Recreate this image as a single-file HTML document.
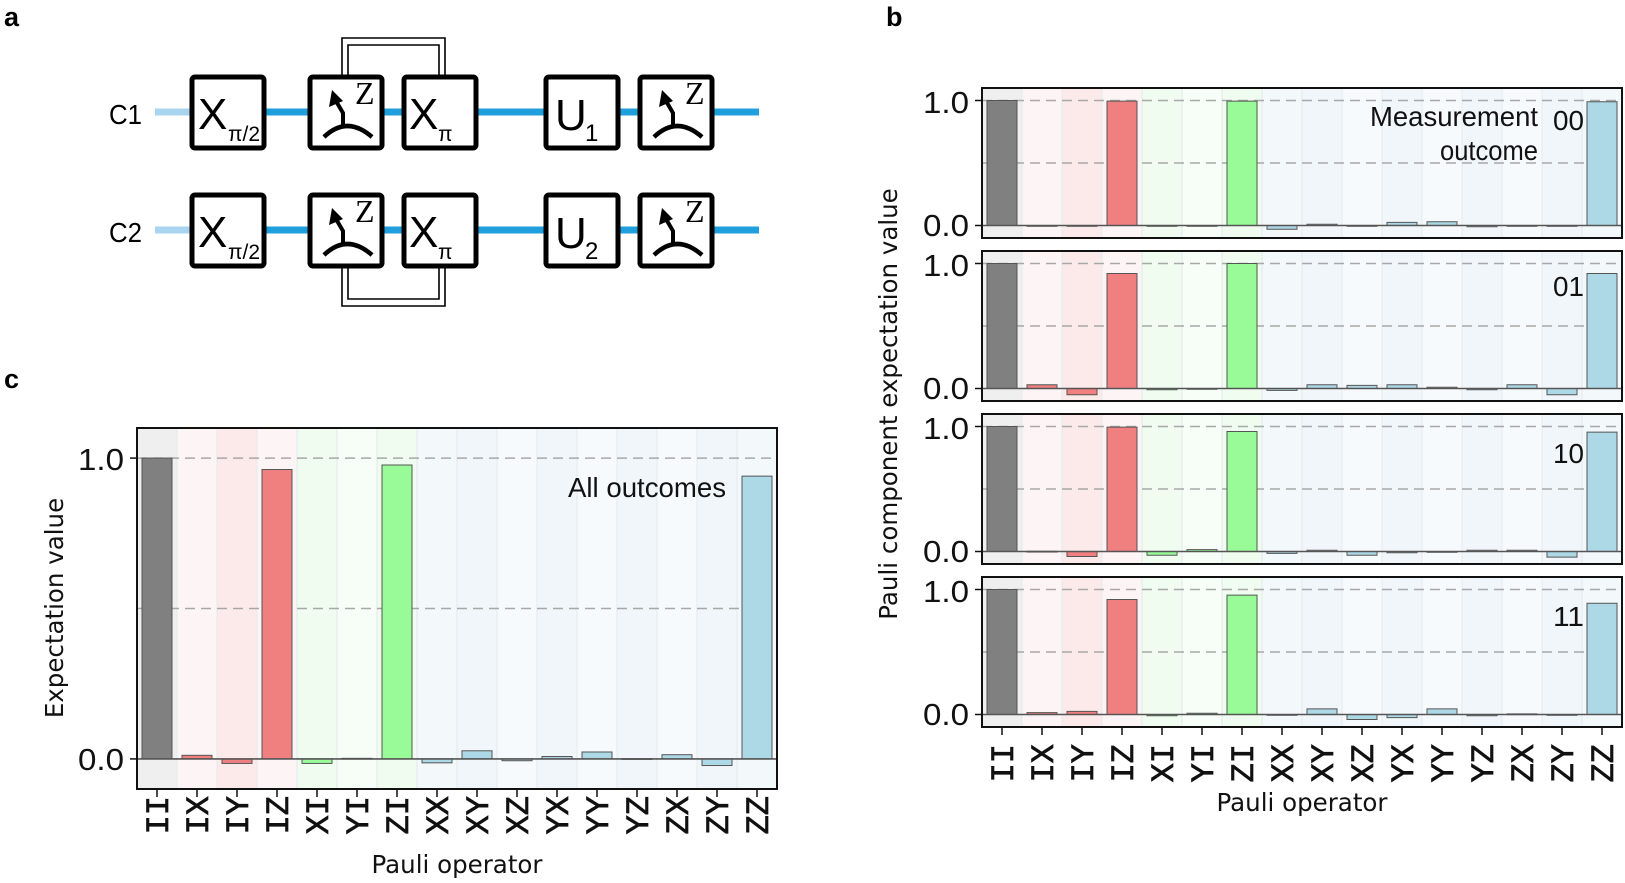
<!DOCTYPE html>
<html><head><meta charset="utf-8"><style>
html,body{margin:0;padding:0;background:#fff}
svg{display:block}
.tk{font-family:"Liberation Sans",sans-serif;font-size:31px;fill:#111}
.ml{font-family:"Liberation Mono",monospace;font-size:32px;fill:#111;stroke:#111;stroke-width:0.7}
.ax{font-family:"DejaVu Sans",sans-serif;font-size:24.5px;fill:#111}
.an{font-family:"Liberation Sans",sans-serif;font-size:28px;fill:#111}
.gt{font-family:"Liberation Sans",sans-serif;font-size:38px;fill:#000}
.sub{font-family:"Liberation Sans",sans-serif;font-size:20px;fill:#000}
.pl{font-family:"Liberation Sans",sans-serif;font-size:27px;font-weight:bold;fill:#000}
</style></head><body>
<svg id="s" width="1625" height="883" viewBox="0 0 1625 883" xmlns="http://www.w3.org/2000/svg">
<text class="pl" x="4" y="26">a</text>
<text class="pl" x="886" y="26">b</text>
<text class="pl" x="4" y="388">c</text>

<g id="circ">
<line x1="155" y1="112" x2="192" y2="112" stroke="#a9d4ef" stroke-width="7"/>
<line x1="192" y1="112" x2="759" y2="112" stroke="#1fa0dc" stroke-width="7"/>
<line x1="155" y1="230" x2="192" y2="230" stroke="#a9d4ef" stroke-width="7"/>
<line x1="192" y1="230" x2="759" y2="230" stroke="#1fa0dc" stroke-width="7"/>
<path d="M342 77 V38 H445 V77" fill="none" stroke="#000" stroke-width="1.6"/>
<path d="M348 77 V45 H439 V77" fill="none" stroke="#000" stroke-width="1.6"/>
<path d="M342 268 V306 H445 V268" fill="none" stroke="#000" stroke-width="1.6"/>
<path d="M348 268 V299 H439 V268" fill="none" stroke="#000" stroke-width="1.6"/>
<text class="gt" x="109" y="124" style="font-size:28px" textLength="33" lengthAdjust="spacingAndGlyphs">C1</text>
<text class="gt" x="109" y="242" style="font-size:28px" textLength="33" lengthAdjust="spacingAndGlyphs">C2</text>
</g>
<g id="pc"></g>
<g id="pb"></g>

<text class="tk" x="124" y="470" text-anchor="end" textLength="46" lengthAdjust="spacingAndGlyphs">1.0</text>
<text class="tk" x="124" y="770" text-anchor="end" textLength="46" lengthAdjust="spacingAndGlyphs">0.0</text>
<text class="ax" transform="translate(63,608) rotate(-90)" text-anchor="middle">Expectation value</text>
<text class="ax" x="457" y="873" text-anchor="middle">Pauli operator</text>
<text class="an" x="726" y="497" text-anchor="end" textLength="158" lengthAdjust="spacingAndGlyphs">All outcomes</text>

<text class="tk" x="969" y="113" text-anchor="end" textLength="46" lengthAdjust="spacingAndGlyphs">1.0</text>
<text class="tk" x="969" y="236" text-anchor="end" textLength="46" lengthAdjust="spacingAndGlyphs">0.0</text>
<text class="tk" x="969" y="276" text-anchor="end" textLength="46" lengthAdjust="spacingAndGlyphs">1.0</text>
<text class="tk" x="969" y="399" text-anchor="end" textLength="46" lengthAdjust="spacingAndGlyphs">0.0</text>
<text class="tk" x="969" y="439" text-anchor="end" textLength="46" lengthAdjust="spacingAndGlyphs">1.0</text>
<text class="tk" x="969" y="562" text-anchor="end" textLength="46" lengthAdjust="spacingAndGlyphs">0.0</text>
<text class="tk" x="969" y="602" text-anchor="end" textLength="46" lengthAdjust="spacingAndGlyphs">1.0</text>
<text class="tk" x="969" y="725" text-anchor="end" textLength="46" lengthAdjust="spacingAndGlyphs">0.0</text>
<text class="ax" transform="translate(897,404) rotate(-90)" text-anchor="middle">Pauli component expectation value</text>
<text class="ax" x="1302" y="811" text-anchor="middle">Pauli operator</text>
<text class="an" x="1538" y="126" text-anchor="end" textLength="168" lengthAdjust="spacingAndGlyphs">Measurement</text>
<text class="an" x="1538" y="160" text-anchor="end" textLength="98" lengthAdjust="spacingAndGlyphs">outcome</text>
<text class="an" x="1584" y="130" text-anchor="end" textLength="31" lengthAdjust="spacingAndGlyphs">00</text>
<text class="an" x="1584" y="296" text-anchor="end" textLength="31" lengthAdjust="spacingAndGlyphs">01</text>
<text class="an" x="1584" y="463" text-anchor="end" textLength="31" lengthAdjust="spacingAndGlyphs">10</text>
<text class="an" x="1584" y="626" text-anchor="end" textLength="31" lengthAdjust="spacingAndGlyphs">11</text>

<g id="tlc">
<text class="ml" transform="translate(168,796) rotate(-90)" text-anchor="end">II</text>
<text class="ml" transform="translate(208,796) rotate(-90)" text-anchor="end">IX</text>
<text class="ml" transform="translate(248,796) rotate(-90)" text-anchor="end">IY</text>
<text class="ml" transform="translate(288,796) rotate(-90)" text-anchor="end">IZ</text>
<text class="ml" transform="translate(328,796) rotate(-90)" text-anchor="end">XI</text>
<text class="ml" transform="translate(368,796) rotate(-90)" text-anchor="end">YI</text>
<text class="ml" transform="translate(408,796) rotate(-90)" text-anchor="end">ZI</text>
<text class="ml" transform="translate(448,796) rotate(-90)" text-anchor="end">XX</text>
<text class="ml" transform="translate(488,796) rotate(-90)" text-anchor="end">XY</text>
<text class="ml" transform="translate(528,796) rotate(-90)" text-anchor="end">XZ</text>
<text class="ml" transform="translate(568,796) rotate(-90)" text-anchor="end">YX</text>
<text class="ml" transform="translate(608,796) rotate(-90)" text-anchor="end">YY</text>
<text class="ml" transform="translate(648,796) rotate(-90)" text-anchor="end">YZ</text>
<text class="ml" transform="translate(688,796) rotate(-90)" text-anchor="end">ZX</text>
<text class="ml" transform="translate(728,796) rotate(-90)" text-anchor="end">ZY</text>
<text class="ml" transform="translate(768,796) rotate(-90)" text-anchor="end">ZZ</text>
</g>
<g id="tlb">
<text class="ml" transform="translate(1013,744) rotate(-90)" text-anchor="end">II</text>
<text class="ml" transform="translate(1053,744) rotate(-90)" text-anchor="end">IX</text>
<text class="ml" transform="translate(1093,744) rotate(-90)" text-anchor="end">IY</text>
<text class="ml" transform="translate(1133,744) rotate(-90)" text-anchor="end">IZ</text>
<text class="ml" transform="translate(1173,744) rotate(-90)" text-anchor="end">XI</text>
<text class="ml" transform="translate(1213,744) rotate(-90)" text-anchor="end">YI</text>
<text class="ml" transform="translate(1253,744) rotate(-90)" text-anchor="end">ZI</text>
<text class="ml" transform="translate(1293,744) rotate(-90)" text-anchor="end">XX</text>
<text class="ml" transform="translate(1333,744) rotate(-90)" text-anchor="end">XY</text>
<text class="ml" transform="translate(1373,744) rotate(-90)" text-anchor="end">XZ</text>
<text class="ml" transform="translate(1413,744) rotate(-90)" text-anchor="end">YX</text>
<text class="ml" transform="translate(1453,744) rotate(-90)" text-anchor="end">YY</text>
<text class="ml" transform="translate(1493,744) rotate(-90)" text-anchor="end">YZ</text>
<text class="ml" transform="translate(1533,744) rotate(-90)" text-anchor="end">ZX</text>
<text class="ml" transform="translate(1573,744) rotate(-90)" text-anchor="end">ZY</text>
<text class="ml" transform="translate(1613,744) rotate(-90)" text-anchor="end">ZZ</text>
</g>
</svg>
<script>
var NS="http://www.w3.org/2000/svg";
function el(p,t,a){var e=document.createElementNS(NS,t);for(var k in a)e.setAttribute(k,a[k]);p.appendChild(e);return e;}
var circ=document.getElementById("circ");
function box(x,y){el(circ,"rect",{x:x,y:y,width:72,height:71,rx:3,fill:"#fff",stroke:"#000","stroke-width":5});}
function txt(x,y,s,cls,sz){var t=el(circ,"text",{x:x,y:y,"class":cls});t.textContent=s;if(sz)t.style.fontSize=sz+"px";return t;}
function meas(x,y){box(x,y);
 el(circ,"path",{d:"M"+(x+14)+" "+(y+60)+" Q"+(x+37)+" "+(y+38)+" "+(x+62)+" "+(y+60),fill:"none",stroke:"#000","stroke-width":4.5});
 el(circ,"path",{d:"M"+(x+33)+" "+(y+49)+" L"+(x+33)+" "+(y+36)+" L"+(x+26)+" "+(y+24),fill:"none",stroke:"#000","stroke-width":4});
 el(circ,"path",{d:"M"+(x+22)+" "+(y+13)+" L"+(x+19)+" "+(y+30)+" L"+(x+33)+" "+(y+24)+"Z",fill:"#000"});
 var z=txt(x+45,y+27,"Z","gt",32);z.style.fontFamily='"Liberation Serif",serif';}
[[77,"1"],[195,"2"]].forEach(function(r){var y=r[0];
 box(192,y);txt(198,y+52,"X","gt",44);txt(228,y+64,"π/2","sub",21);
 meas(310,y);
 box(404,y);txt(409,y+52,"X","gt",44);txt(438,y+64,"π","sub",21);
 box(546,y);txt(555,y+53,"U","gt",44);txt(585,y+64,r[1],"sub",24);
 meas(640,y);
});
var bgs=["#efefef","#fdf5f5","#fceaea","#fdf5f5","#effcef","#f7fdf7","#effcef","#f3f8fb","#f1f6fa","#f7fafd","#f1f6fa","#f7fafd","#f1f6fa","#f7fafd","#f1f6fa","#f3f8fb"];
function col(i){return i==0?"#808080":i<4?"#f08080":i<7?"#98fb98":"#add8e6";}
function panel(g,x0,y0,h,vals,tickLen){
 var sc=h/1.2;function Y(v){return y0+(1.1-v)*sc;}
 for(var i=0;i<16;i++){el(g,"rect",{x:x0+40*i,y:y0,width:40,height:h,fill:bgs[i]});
  if(i>0)el(g,"line",{x1:x0+40*i,y1:y0,x2:x0+40*i,y2:y0+h,stroke:"#e4e9ee","stroke-width":1});}
 el(g,"line",{x1:x0,y1:Y(1),x2:x0+640,y2:Y(1),stroke:"#a8a8a8","stroke-width":1.5,"stroke-dasharray":"10,6"});
 el(g,"line",{x1:x0,y1:Y(0.5),x2:x0+640,y2:Y(0.5),stroke:"#a8a8a8","stroke-width":1.5,"stroke-dasharray":"10,6"});
 for(var i=0;i<16;i++){var v=vals[i];var t=Y(Math.max(v,0)),b=Y(Math.min(v,0));
  el(g,"rect",{x:x0+40*i+5,y:t,width:30,height:Math.max(b-t,0.8),fill:col(i),stroke:"#555","stroke-width":1});}
 el(g,"line",{x1:x0,y1:Y(0),x2:x0+640,y2:Y(0),stroke:"#555","stroke-width":1.6});
 el(g,"rect",{x:x0,y:y0,width:640,height:h,fill:"none",stroke:"#111","stroke-width":2});
 [0,1].forEach(function(v){el(g,"line",{x1:x0-7,y1:Y(v),x2:x0,y2:Y(v),stroke:"#111","stroke-width":1.5});});
 if(tickLen)for(var i=0;i<16;i++)el(g,"line",{x1:x0+20+40*i,y1:y0+h,x2:x0+20+40*i,y2:y0+h+8,stroke:"#111","stroke-width":1.5});
}
panel(document.getElementById("pc"),137,428,361,[1,0.012,-0.015,0.962,-0.015,0.002,0.977,-0.013,0.027,-0.006,0.008,0.023,0.001,0.014,-0.022,0.94],1);
var pb=document.getElementById("pb");
var B=[[1,0,0,0.995,-0.003,-0.005,0.995,-0.03,0.01,0,0.025,0.03,-0.01,0,0,0.99],
[1,0.03,-0.05,0.92,-0.01,-0.005,1.0,-0.015,0.03,0.025,0.03,0.01,-0.01,0.03,-0.05,0.92],
[1,0.002,-0.04,0.995,-0.03,0.015,0.96,-0.015,0.01,-0.03,-0.01,-0.005,0.01,0.01,-0.045,0.955],
[1,0.015,0.025,0.92,-0.01,0.01,0.955,-0.005,0.045,-0.04,-0.025,0.045,-0.01,0.005,0,0.89]];
[88,251,414,577].forEach(function(t,k){panel(pb,982,t,150,B[k],k==3);});
</script>
</body></html>
